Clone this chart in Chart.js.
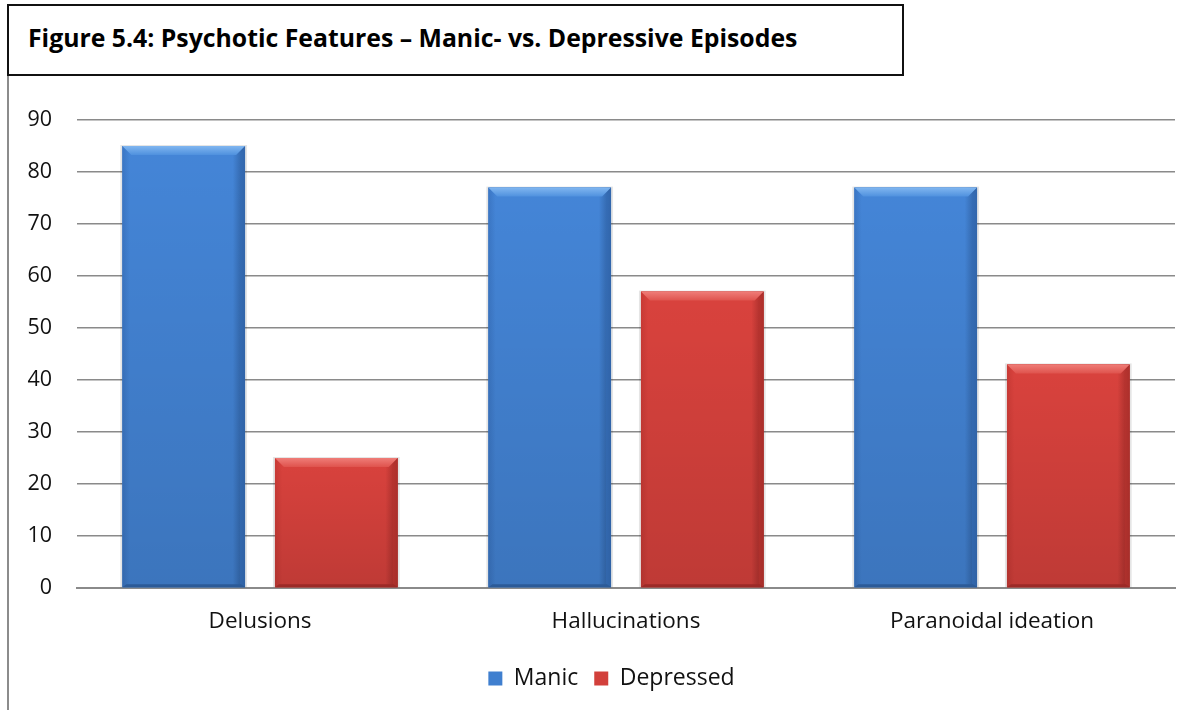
<!DOCTYPE html>
<html>
<head>
<meta charset="utf-8">
<script src="https://cdn.jsdelivr.net/npm/chart.js@4.4.1/dist/chart.umd.min.js"></script>
<style>
  html, body { margin: 0; padding: 0; background: #fff; }
  #wrap { position: relative; width: 1200px; height: 710px; overflow: hidden; }
  #frame { position: absolute; left: 7px; top: 70px; width: 0; height: 640px; border-left: 2px solid #8c8c8c; }
  #title { position: absolute; left: 7px; top: 4px; width: 897px; height: 72px; border: 2px solid #111; box-sizing: border-box; background: #fff;
           font-family: "Open Sans", sans-serif; font-weight: bold; font-size: 24.8px; color: #000; padding: 14px 0 0 19px; white-space: nowrap; }
  canvas { position: absolute; left: 0; top: 0; }
</style>
</head>
<body>
<div id="wrap">
  <canvas id="c" width="1200" height="710"></canvas>
  <div id="frame"></div>
  <div id="title">Figure 5.4: Psychotic Features – Manic- vs. Depressive Episodes</div>
</div>
<script>
const categories = ["Delusions", "Hallucinations", "Paranoidal ideation"];
const manicValues = [85, 77, 77];
const depressedValues = [25, 57, 43];
const seriesNames = ["Manic", "Depressed"];
const yTicks = [0, 10, 20, 30, 40, 50, 60, 70, 80, 90];

const palettes = [
  { base: "#4485d7", left: "#3b76c4", right: "#2d5e9f", top1: "#80b6f0", top2: "#4f91de", bottom: "#2c5b98", side: "#356db6" },
  { base: "#d9423d", left: "#c93a35", right: "#a02b28", top1: "#ef7d78", top2: "#df534d", bottom: "#9c2a27", side: "#b8332f" }
];

const bevelPlugin = {
  id: "bevel",
  afterLayout(chart) {
    // centre the legend under the frame like the original
    if (chart.legend) { chart.legend.left += 24; chart.legend.right += 24; }
  },
  afterDatasetsDraw(chart) {
    const ctx = chart.ctx;
    chart.data.datasets.forEach((ds, di) => {
      const meta = chart.getDatasetMeta(di);
      const p = palettes[di];
      meta.data.forEach(el => {
        const L = el.x - el.width / 2, R = el.x + el.width / 2, T = el.y, B = el.base;
        const b = 9;
        ctx.save();
        ctx.fillStyle = "rgba(0,0,0,0.10)";
        ctx.fillRect(L - 2, T - 1, R - L + 4, B - T + 1);
        const g = ctx.createLinearGradient(L, 0, R, 0);
        g.addColorStop(0, p.left);
        g.addColorStop(0.06, p.base);
        g.addColorStop(0.9, p.base);
        g.addColorStop(1, p.right);
        ctx.fillStyle = g;
        ctx.fillRect(L, T, R - L, B - T);
        const gv = ctx.createLinearGradient(0, T, 0, B);
        gv.addColorStop(0, "rgba(0,0,0,0)");
        gv.addColorStop(1, "rgba(0,0,0,0.12)");
        ctx.fillStyle = gv;
        ctx.fillRect(L, T, R - L, B - T);
        ctx.fillStyle = p.side;
        ctx.globalAlpha = 0.6;
        ctx.beginPath();
        ctx.moveTo(R, T); ctx.lineTo(R - 5, T + b); ctx.lineTo(R - 5, B - 3); ctx.lineTo(R, B);
        ctx.closePath(); ctx.fill();
        ctx.globalAlpha = 1;
        ctx.fillStyle = p.bottom;
        ctx.beginPath();
        ctx.moveTo(L, B); ctx.lineTo(L + 4, B - 3); ctx.lineTo(R - 4, B - 3); ctx.lineTo(R, B);
        ctx.closePath(); ctx.fill();
        const gt = ctx.createLinearGradient(0, T, 0, T + b);
        gt.addColorStop(0, p.top1);
        gt.addColorStop(1, p.top2);
        ctx.fillStyle = gt;
        ctx.beginPath();
        ctx.moveTo(L, T); ctx.lineTo(R, T); ctx.lineTo(R - b, T + b); ctx.lineTo(L + b, T + b);
        ctx.closePath(); ctx.fill();
        ctx.restore();
      });
    });
  }
};

const legendColors = ["#3f7fcf", "#d2403b"];
const FONT = "'Open Sans', sans-serif";

new Chart(document.getElementById("c"), {
  type: "bar",
  data: {
    labels: categories,
    datasets: [
      { label: seriesNames[0], data: manicValues, backgroundColor: palettes[0].base, borderWidth: 0 },
      { label: seriesNames[1], data: depressedValues, backgroundColor: palettes[1].base, borderWidth: 0 }
    ]
  },
  options: {
    responsive: false,
    animation: false,
    devicePixelRatio: 1,
    layout: { padding: { top: 120, right: 25, bottom: 10, left: 0 } },
    datasets: { bar: { categoryPercentage: 0.834, barPercentage: 0.804 } },
    scales: {
      x: {
        grid: { display: false, drawTicks: false },
        border: { display: true, color: "#8a8a8a", width: 2 },
        ticks: { color: "#111", font: { family: FONT, size: 22.5 }, padding: 20 },
        afterFit(scale) { scale.height = 63; }
      },
      y: {
        min: 0, max: 90,
        afterFit(scale) { scale.width = 77; },
        afterBuildTicks(scale) { scale.ticks = yTicks.map(v => ({ value: v })); },
        grid: { color: "#8a8a8a", lineWidth: 1.5, drawTicks: false },
        border: { display: false },
        ticks: { color: "#111", font: { family: FONT, size: 21.5 }, padding: 25 }
      }
    },
    plugins: {
      legend: {
        position: "bottom",
        labels: {
          color: "#111",
          font: { family: FONT, size: 23 },
          boxWidth: 14, boxHeight: 14, padding: 16,
          generateLabels(chart) {
            return chart.data.datasets.map((ds, i) => ({
              text: ds.label, fillStyle: legendColors[i], strokeStyle: legendColors[i], lineWidth: 0,
              hidden: false, datasetIndex: i, fontColor: "#111"
            }));
          }
        }
      },
      tooltip: { enabled: false }
    }
  },
  plugins: [bevelPlugin]
});
</script>
</body>
</html>
